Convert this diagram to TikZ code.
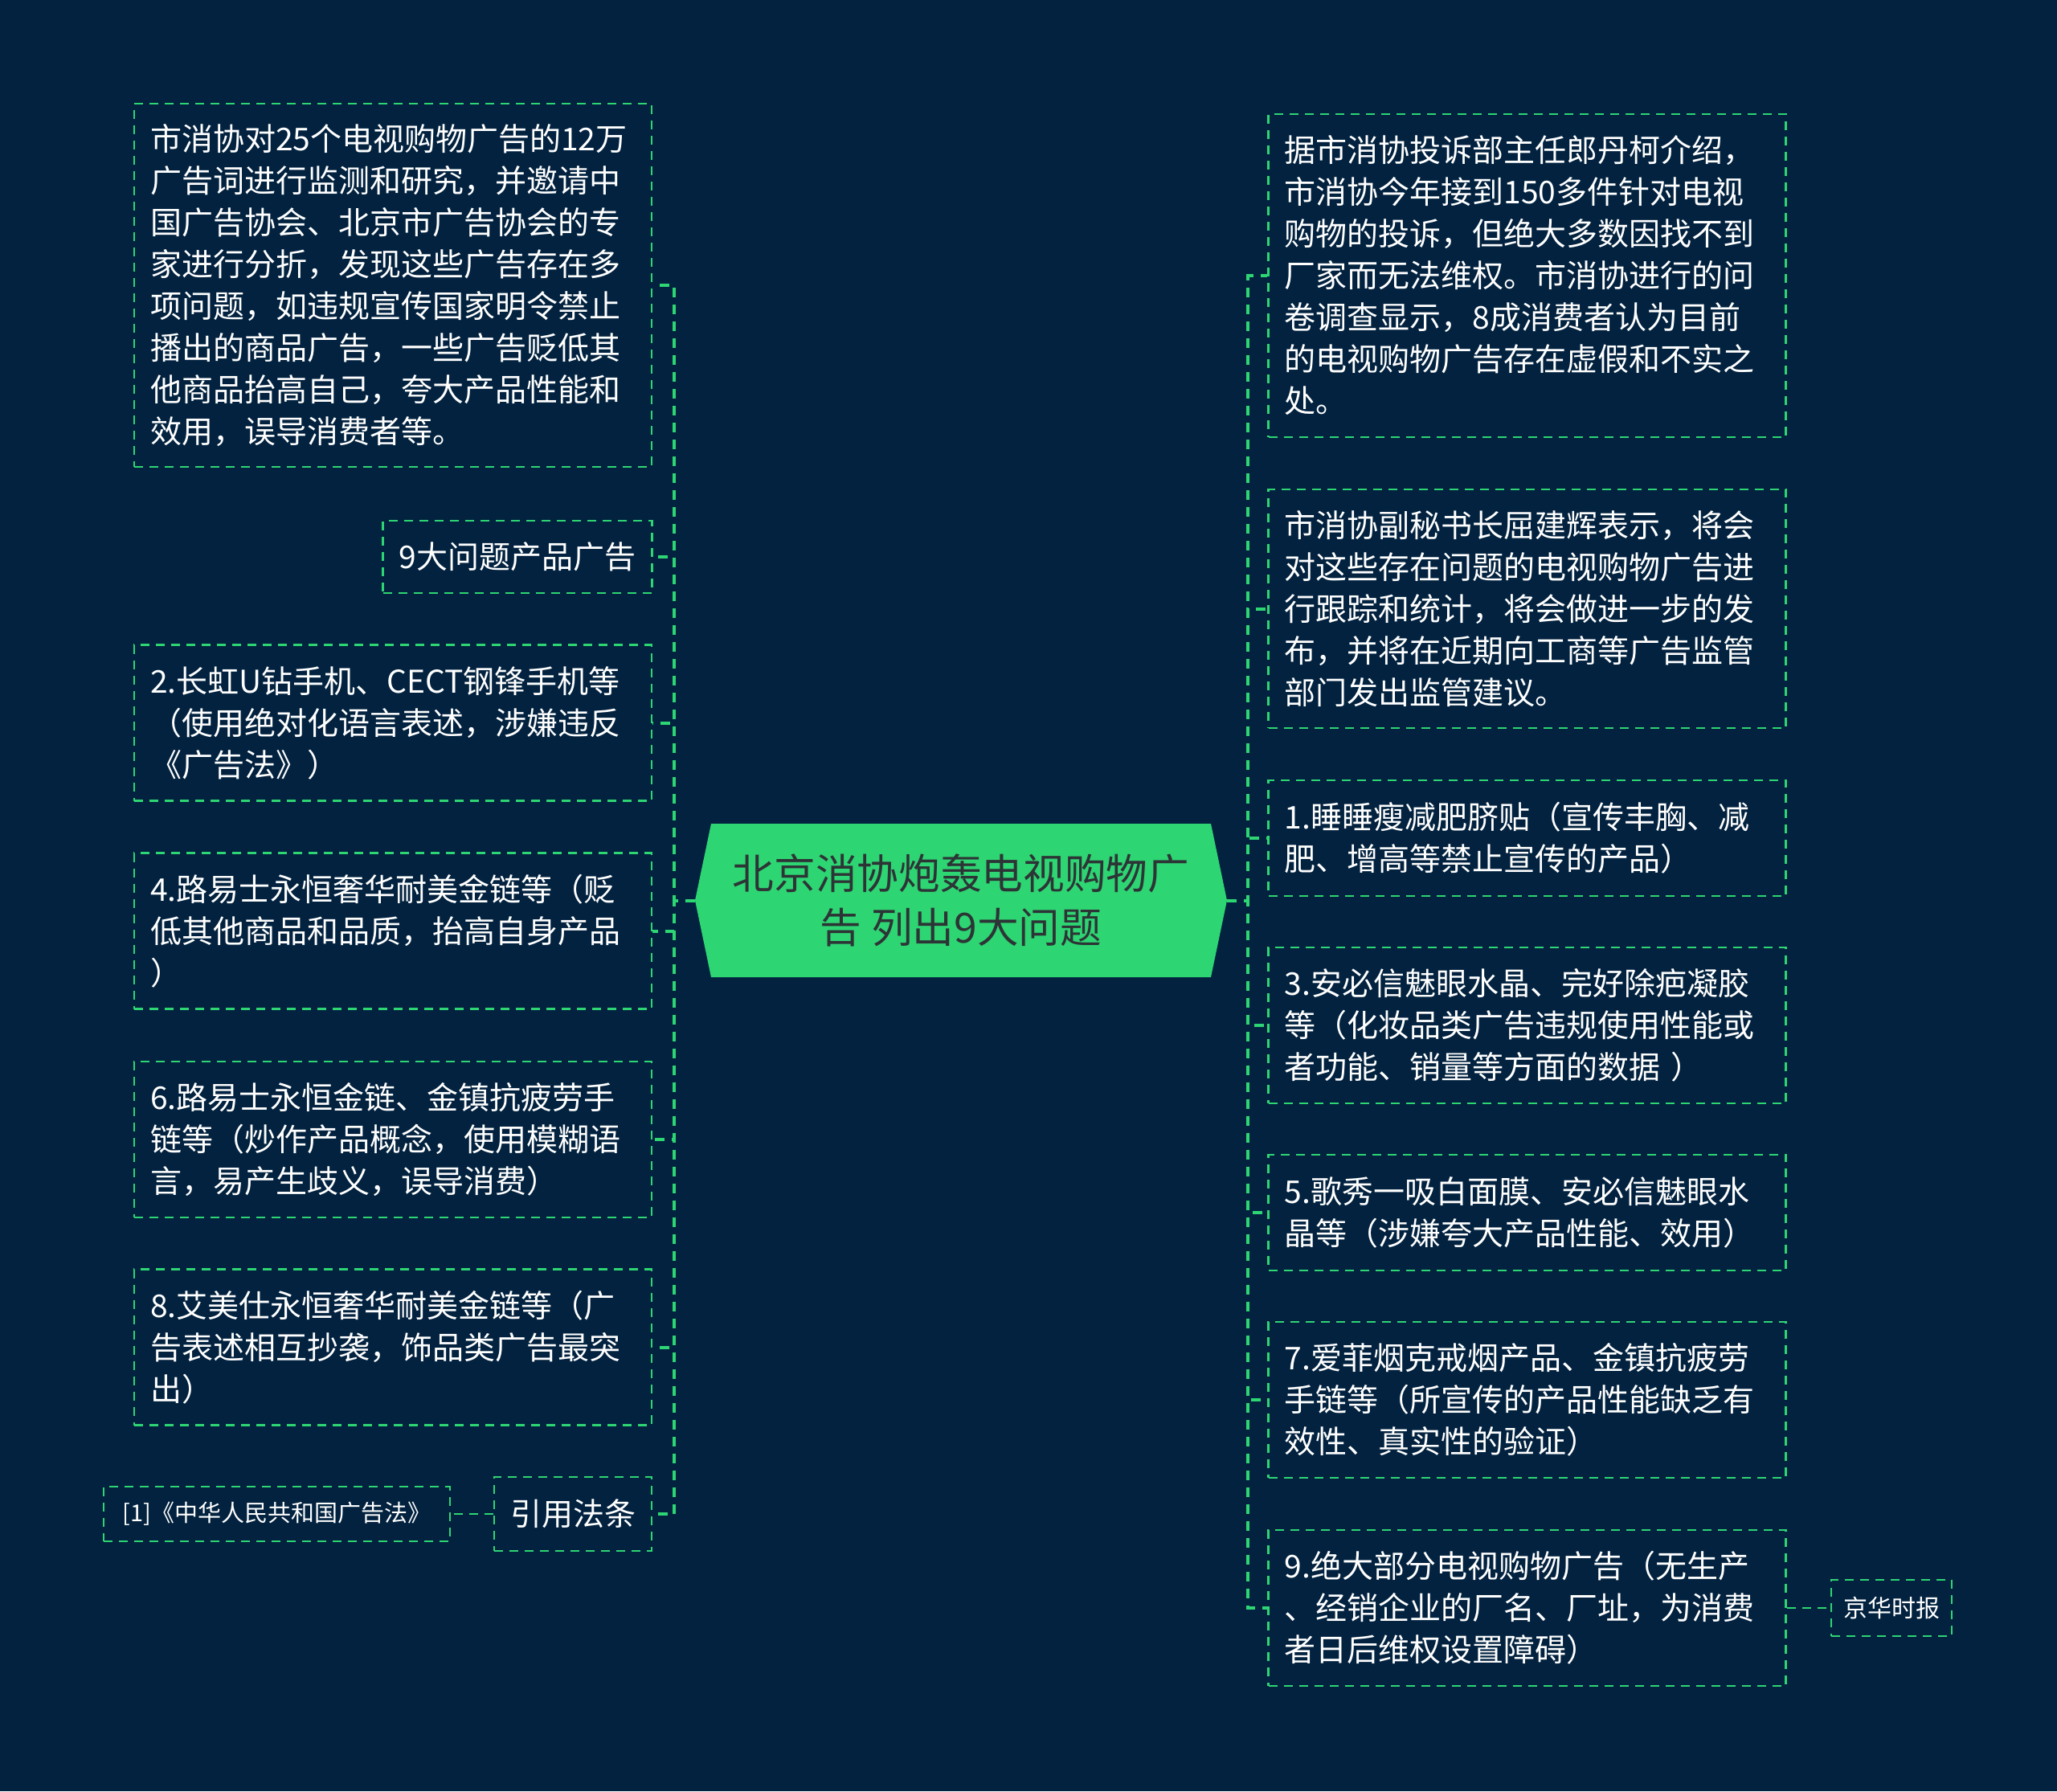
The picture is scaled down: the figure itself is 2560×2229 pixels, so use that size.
\documentclass[tikz,border=0pt]{standalone}
\usepackage{fontspec}
\setmainfont{Noto Sans CJK SC}
\definecolor{bg}{RGB}{2,34,63}
\definecolor{mint}{RGB}{46,213,115}
\definecolor{ctext}{RGB}{45,52,54}
\begin{document}
\begin{tikzpicture}[x=0.3pt,y=-0.3pt,
  box/.style={draw=mint, line width=0.75pt, dash pattern=on 3.3pt off 2.4pt,
    rectangle, inner xsep=6pt, inner ysep=0pt, text=white,
    font=\fontsize{11.7pt}{15.6pt}\selectfont, anchor=center},
  wide/.style={box, text width=181.2pt, align=left},
  small/.style={box, align=center},
  trunk/.style={draw=mint, line width=1.2pt, dash pattern=on 3.6pt off 2.7pt},
  link/.style={draw=mint, line width=0.75pt, dash pattern=on 3.3pt off 2.4pt}]

\fill[bg] (0,0) rectangle (2560,2229);

% centre anchors
\coordinate (cl) at (865,1120.5);
\coordinate (cr) at (1527,1120.5);

% left nodes
\node[wide, minimum height=135.6pt] (L1) at (489,355)
  {市消协对25个电视购物广告的12万\\广告词进行监测和研究，并邀请中\\国广告协会、北京市广告协会的专\\家进行分折，发现这些广告存在多\\项问题，如违规宣传国家明令禁止\\播出的商品广告，一些广告贬低其\\他商品抬高自己，夸大产品性能和\\效用，误导消费者等。};
\node[small, minimum width=100.2pt, minimum height=27pt] (L2) at (644,693) {9大问题产品广告};
\node[wide, minimum height=58.2pt] (L3) at (489,899.5)
  {2.长虹U钻手机、CECT钢锋手机等\\（使用绝对化语言表述，涉嫌违反\\《广告法》）};
\node[wide, minimum height=58.2pt] (L4) at (489,1158.5)
  {4.路易士永恒奢华耐美金链等（贬\\低其他商品和品质，抬高自身产品\\）};
\node[wide, minimum height=58.2pt] (L5) at (489,1418)
  {6.路易士永恒金链、金镇抗疲劳手\\链等（炒作产品概念，使用模糊语\\言，易产生歧义，误导消费）};
\node[wide, minimum height=58.2pt] (L6) at (489,1676.5)
  {8.艾美仕永恒奢华耐美金链等（广\\告表述相互抄袭，饰品类广告最突\\出）};
\node[small, minimum width=58.8pt, minimum height=27.6pt] (L7) at (713,1884) {引用法条};
\node[small, minimum width=129.3pt, minimum height=20.4pt, inner xsep=4pt,
  font=\fontsize{8.7pt}{11pt}\selectfont] (L7c) at (344.5,1884) {[1]《中华人民共和国广告法》};

% right nodes
\node[wide, minimum height=120.6pt] (R1) at (1900.5,343)
  {据市消协投诉部主任郎丹柯介绍，\\市消协今年接到150多件针对电视\\购物的投诉，但绝大多数因找不到\\厂家而无法维权。市消协进行的问\\卷调查显示，8成消费者认为目前\\的电视购物广告存在虚假和不实之\\处。};
\node[wide, minimum height=89.1pt] (R2) at (1900.5,757.5)
  {市消协副秘书长屈建辉表示，将会\\对这些存在问题的电视购物广告进\\行跟踪和统计，将会做进一步的发\\布，并将在近期向工商等广告监管\\部门发出监管建议。};
\node[wide, minimum height=43.2pt] (R3) at (1900.5,1043)
  {1.睡睡瘦减肥脐贴（宣传丰胸、减\\肥、增高等禁止宣传的产品）};
\node[wide, minimum height=58.2pt] (R4) at (1900.5,1276)
  {3.安必信魅眼水晶、完好除疤凝胶\\等（化妆品类广告违规使用性能或\\者功能、销量等方面的数据 ）};
\node[wide, minimum height=43.2pt] (R5) at (1900.5,1509)
  {5.歌秀一吸白面膜、安必信魅眼水\\晶等（涉嫌夸大产品性能、效用）};
\node[wide, minimum height=58.2pt] (R6) at (1900.5,1742)
  {7.爱菲烟克戒烟产品、金镇抗疲劳\\手链等（所宣传的产品性能缺乏有\\效性、真实性的验证）};
\node[wide, minimum height=58.2pt] (R7) at (1900.5,2001)
  {9.绝大部分电视购物广告（无生产\\、经销企业的厂名、厂址，为消费\\者日后维权设置障碍）};
\node[small, minimum width=45pt, minimum height=21pt, inner xsep=3pt,
  font=\fontsize{9pt}{11pt}\selectfont] (R7c) at (2354,2001) {京华时报};

% connectors
\foreach \n in {L1,L2,L3,L4,L5,L6,L7}
  \draw[trunk] (cl) -- ++(-26,0) |- (\n.east);
\foreach \n in {R1,R2,R3,R4,R5,R6,R7}
  \draw[trunk] (cr) -- ++(26,0) |- (\n.west);
\draw[link] (L7.west) -- (L7c.east);
\draw[link] (R7.east) -- (R7c.west);

% centre node
\fill[mint] (cl) -- (885,1025) -- (1507,1025) -- (cr) -- (1507,1216) -- (885,1216) -- cycle;
\node[inner sep=0pt, align=center, text=ctext,
  font=\fontsize{15.5pt}{20.1pt}\selectfont] (C) at (1196,1120.5)
  {北京消协炮轰电视购物广\\告 列出9大问题};
\end{tikzpicture}
\end{document}
